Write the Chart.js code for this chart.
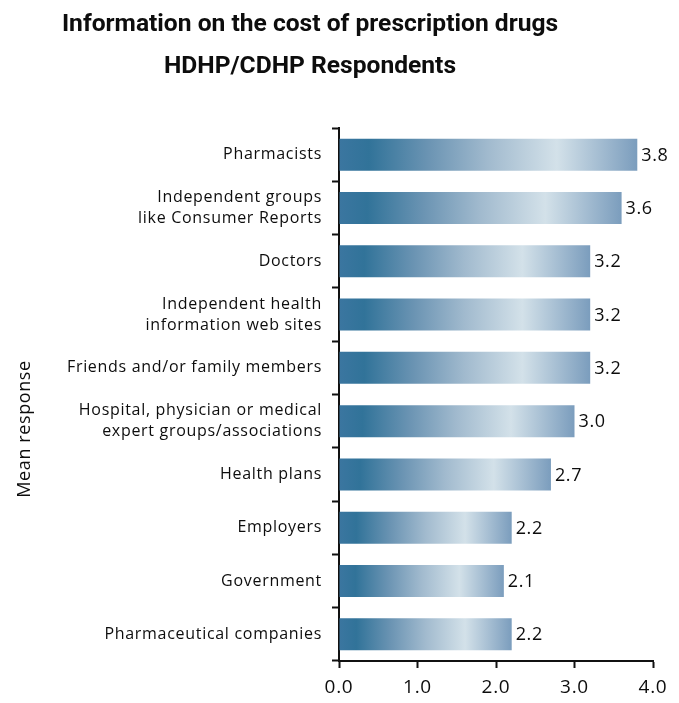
<!DOCTYPE html>
<html>
<head>
<meta charset="utf-8">
<script src="https://cdn.jsdelivr.net/npm/chart.js@4/dist/chart.umd.min.js"></script>
<style>
  html, body { margin: 0; padding: 0; background: #fff; }
  #wrap { width: 679px; height: 703px; position: relative; }
</style>
</head>
<body>
<div id="wrap"><canvas id="chart"></canvas></div>
<script>
// mean response per information source
const sources = [
    "Pharmacists",
    ["Independent groups", "like Consumer Reports"],
    "Doctors",
    ["Independent health", "information web sites"],
    "Friends and/or family members",
    ["Hospital, physician or medical", "expert groups/associations"],
    "Health plans",
    "Employers",
    "Government",
    "Pharmaceutical companies"
];
const meanResponse = [3.8, 3.6, 3.2, 3.2, 3.2, 3.0, 2.7, 2.2, 2.1, 2.2];
const xTicks = [0, 1, 2, 3, 4];

const titleLines = ["Information on the cost of prescription drugs", "HDHP/CDHP Respondents"];
const yTitle = "Mean response";

const labelFont = "'Open Sans', sans-serif";

function barGradient(context) {
    const chart = context.chart;
    const x = chart.scales && chart.scales.x;
    if (!x || !chart.chartArea) return "#6f98b5";
    const x0 = x.getPixelForValue(0);
    const x1 = x.getPixelForValue(context.raw);
    const g = chart.ctx.createLinearGradient(x0, 0, x1, 0);
    g.addColorStop(0, "#3b76a0");
    g.addColorStop(0.1, "#317399");
    g.addColorStop(0.3, "#6b94b3");
    g.addColorStop(0.5, "#a1bace");
    g.addColorStop(0.73, "#d3e1e9");
    g.addColorStop(1, "#7b9dbd");
    return g;
}

// titles, rotated axis title and the value next to each bar
const extras = {
    id: "extras",
    beforeDraw(chart) {
        // the axis labels are set a little loose
        chart.ctx.letterSpacing = "0.7px";
    },
    afterDraw(chart) {
        const ctx = chart.ctx;
        ctx.save();
        ctx.fillStyle = "#0d0d0d";
        ctx.textAlign = "center";
        ctx.textBaseline = "middle";
        ctx.letterSpacing = "0px";
        ctx.font = "bold 24.6px Roboto, sans-serif";
        ctx.fillText(titleLines[0], 310, 25);
        ctx.fillText(titleLines[1], 310, 67);

        ctx.letterSpacing = "0.6px";
        ctx.font = "18px " + labelFont;
        ctx.translate(25, 429);
        ctx.rotate(-Math.PI / 2);
        ctx.fillText(yTitle, 0, 0);
        ctx.restore();

        ctx.save();
        ctx.fillStyle = "#0d0d0d";
        ctx.letterSpacing = "0.6px";
        ctx.font = "18px " + labelFont;
        ctx.textAlign = "left";
        ctx.textBaseline = "middle";
        chart.getDatasetMeta(0).data.forEach((bar, i) => {
            ctx.fillText(meanResponse[i].toFixed(1), bar.x + 4, bar.y + 1);
        });
        ctx.restore();
        ctx.letterSpacing = "0px";
    }
};

new Chart(document.getElementById("chart"), {
    type: "bar",
    data: {
        labels: sources,
        datasets: [{
            data: meanResponse,
            backgroundColor: barGradient,
            borderWidth: 0,
            barPercentage: 0.6,
            categoryPercentage: 1.0
        }]
    },
    options: {
        indexAxis: "y",
        responsive: true,
        maintainAspectRatio: false,
        animation: false,
        layout: { padding: { top: 128, right: 26, left: 0, bottom: 0 } },
        plugins: {
            legend: { display: false },
            tooltip: { enabled: false }
        },
        scales: {
            x: {
                min: 0,
                max: 4,
                afterBuildTicks: (s) => { s.ticks = xTicks.map(v => ({ value: v })); },
                afterFit: (s) => { s.height = 42; },
                grid: { drawOnChartArea: false, tickLength: 7, tickColor: "#111", tickWidth: 2 },
                border: { color: "#111", width: 2 },
                ticks: {
                    color: "#0d0d0d",
                    padding: 8,
                    font: { family: labelFont, size: 19 },
                    callback: (v) => Number(v).toFixed(1)
                }
            },
            y: {
                afterFit: (s) => { s.width = 339; },
                grid: { drawOnChartArea: false, tickLength: 7, tickColor: "#111", tickWidth: 2 },
                border: { color: "#111", width: 2 },
                ticks: {
                    color: "#0d0d0d",
                    padding: 10,
                    font: { family: labelFont, size: 16, lineHeight: 1.3 }
                }
            }
        }
    },
    plugins: [extras]
});
</script>
</body>
</html>
